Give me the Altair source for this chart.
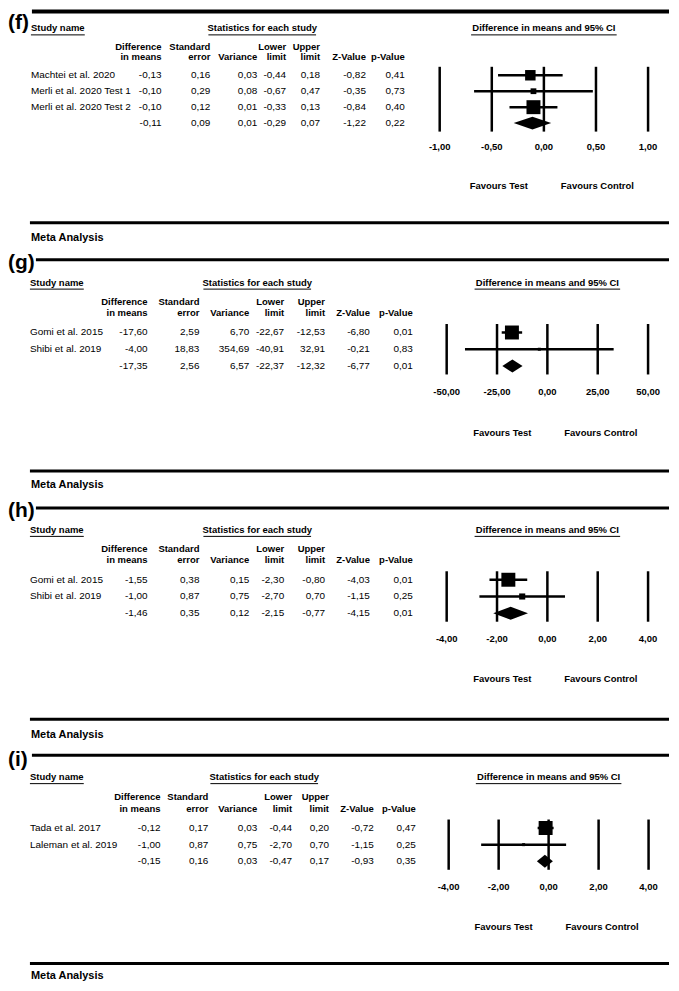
import altair as alt
import pandas as pd

# ------------------------------------------------------------------ data
panel_labels = ["(f)", "(g)", "(h)", "(i)"]

f_names = ["Machtei et al. 2020", "Merli et al. 2020 Test 1", "Merli et al. 2020 Test 2", ""]
f_diff = [-0.13, -0.10, -0.10, -0.11]
f_se = [0.16, 0.29, 0.12, 0.09]
f_var = [0.03, 0.08, 0.01, 0.01]
f_lower = [-0.44, -0.67, -0.33, -0.29]
f_upper = [0.18, 0.47, 0.13, 0.07]
f_z = [-0.82, -0.35, -0.84, -1.22]
f_p = [0.41, 0.73, 0.40, 0.22]
f_ticks = [-1.0, -0.5, 0.0, 0.5, 1.0]

g_names = ["Gomi et al. 2015", "Shibi et al. 2019", ""]
g_diff = [-17.60, -4.00, -17.35]
g_se = [2.59, 18.83, 2.56]
g_var = [6.70, 354.69, 6.57]
g_lower = [-22.67, -40.91, -22.37]
g_upper = [-12.53, 32.91, -12.32]
g_z = [-6.80, -0.21, -6.77]
g_p = [0.01, 0.83, 0.01]
g_ticks = [-50.0, -25.0, 0.0, 25.0, 50.0]

h_names = ["Gomi et al. 2015", "Shibi et al. 2019", ""]
h_diff = [-1.55, -1.00, -1.46]
h_se = [0.38, 0.87, 0.35]
h_var = [0.15, 0.75, 0.12]
h_lower = [-2.30, -2.70, -2.15]
h_upper = [-0.80, 0.70, -0.77]
h_z = [-4.03, -1.15, -4.15]
h_p = [0.01, 0.25, 0.01]
h_ticks = [-4.0, -2.0, 0.0, 2.0, 4.0]

i_names = ["Tada et al. 2017", "Laleman et al. 2019", ""]
i_diff = [-0.12, -1.00, -0.15]
i_se = [0.17, 0.87, 0.16]
i_var = [0.03, 0.75, 0.03]
i_lower = [-0.44, -2.70, -0.47]
i_upper = [0.20, 0.70, 0.17]
i_z = [-0.72, -1.15, -0.93]
i_p = [0.47, 0.25, 0.35]
i_ticks = [-4.0, -2.0, 0.0, 2.0, 4.0]

hdr_study = "Study name"
hdr_stats = "Statistics for each study"
hdr_forest = "Difference in means and 95% CI"
hdr_row1 = ["Difference", "Standard", "", "Lower", "Upper", "", ""]
hdr_row2 = ["in means", "error", "Variance", "limit", "limit", "Z-Value", "p-Value"]
fav_left = "Favours Test"
fav_right = "Favours Control"
footer = "Meta Analysis"

# ------------------------------------------------------------------ layout (style only)
FONT = "Liberation Sans"
M = 8            # page margin: reference x -> chart x
W, H = 663, 975
DUMMY = pd.DataFrame({"k": [0]})
DIAMOND_HALF = 6.5   # px

LAYOUT = {
    "f": dict(T=2, top_w=4, label_dy=12, line_x0=24, name_x=31,
              cols=[162, 211, 258, 287, 321, 367, 406], stats_cx=263, stats_w=108,
              fx=(441, 650), study=17, h1=36, h2=46, row0=64, dr=16,
              axis=136, fav=175, bottom=212, meta=227),
    "g": dict(T=251, top_w=3, label_dy=3, line_x0=28, name_x=30,
              cols=[148, 200, 250, 285, 326, 371, 414], stats_cx=258, stats_w=108,
              fx=(448, 650), study=23, h1=42, h2=53, row0=73, dr=16.8,
              axis=133, fav=174, bottom=212, meta=226),
    "h": dict(T=500, top_w=3, label_dy=3, line_x0=28, name_x=30,
              cols=[148, 200, 250, 285, 326, 371, 414], stats_cx=258, stats_w=108,
              fx=(448, 650), study=22, h1=41, h2=52, row0=72, dr=16.8,
              axis=131, fav=172, bottom=212, meta=228),
    "i": dict(T=748, top_w=3, label_dy=5, line_x0=24, name_x=30,
              cols=[161, 209, 258, 293, 330, 375, 417], stats_cx=265, stats_w=108,
              fx=(450, 650.5), study=22, h1=42, h2=54, row0=73, dr=16.7,
              axis=132, fav=172, bottom=209, meta=221),
}


def fmt(v):
    return f"{v:.2f}".replace(".", ",")


def static_text(s, x, y, align="left", size=9.5, bold=True):
    return alt.Chart(DUMMY).mark_text(
        text=s, align=align, baseline="middle", font=FONT, fontSize=size,
        fontWeight="bold" if bold else "normal", color="black"
    ).encode(x=alt.value(x), y=alt.value(y))


def hrule(x1, x2, y, w):
    return alt.Chart(DUMMY).mark_rule(color="black", strokeWidth=w).encode(
        x=alt.value(x1), x2=alt.value(x2), y=alt.value(y))


def panel(key, label, names, diff, se, var, lower, upper, z, p, ticks):
    L = LAYOUT[key]
    T = L["T"]
    n = len(names)
    df = pd.DataFrame({
        "row": list(range(n)),
        "name": names,
        "c0": [fmt(v) for v in diff],
        "c1": [fmt(v) for v in se],
        "c2": [fmt(v) for v in var],
        "c3": [fmt(v) for v in lower],
        "c4": [fmt(v) for v in upper],
        "c5": [fmt(v) for v in z],
        "c6": [fmt(v) for v in p],
        "d": diff, "lo": lower, "hi": upper, "se": se,
        "study": [nm != "" for nm in names],
    })
    ysc = alt.Scale(domain=[0, n - 1],
                    range=[T + L["row0"], T + L["row0"] + (n - 1) * L["dr"]])
    xsc = alt.Scale(domain=[ticks[0], ticks[-1]],
                    range=[L["fx"][0] - M, L["fx"][1] - M])
    Y = alt.Y("row:Q", scale=ysc, axis=None)
    cols = [c - M for c in L["cols"]]
    fmid = (L["fx"][0] + L["fx"][1]) / 2 - M

    layers = []
    # label, separator line
    layers.append(static_text(label, 0, T + L["label_dy"], size=21))
    layers.append(hrule(L["line_x0"], W, T, L["top_w"]))
    # headers
    ys = T + L["study"]
    nx = L["name_x"] - M
    layers.append(static_text(hdr_study, nx, ys))
    layers.append(hrule(nx, nx + 54, ys + 6.5, 1))
    sc = L["stats_cx"] - M
    layers.append(static_text(hdr_stats, sc, ys, align="center"))
    layers.append(hrule(sc - L["stats_w"] / 2, sc + L["stats_w"] / 2, ys + 6.5, 1))
    layers.append(static_text(hdr_forest, fmid, ys, align="center"))
    layers.append(hrule(fmid - 73, fmid + 73, ys + 6.5, 1))
    for t1, t2, cx in zip(hdr_row1, hdr_row2, cols):
        if t1:
            layers.append(static_text(t1, cx, T + L["h1"], align="right"))
        layers.append(static_text(t2, cx, T + L["h2"], align="right"))

    base = alt.Chart(df)
    layers.append(base.mark_text(align="left", baseline="middle", font=FONT,
                                 fontSize=10, color="black").encode(
        x=alt.value(nx), y=Y, text="name:N"))
    for k, cx in enumerate(cols):
        layers.append(base.mark_text(align="right", baseline="middle", font=FONT,
                                     fontSize=10, color="black").encode(
            x=alt.value(cx), y=Y, text=f"c{k}:N"))

    # forest plot
    tdf = pd.DataFrame({"t": ticks, "lab": [fmt(t) for t in ticks]})
    y_first = T + L["row0"]
    y_last = T + L["row0"] + (n - 1) * L["dr"]
    layers.append(alt.Chart(tdf).mark_rule(color="black", strokeWidth=2.5).encode(
        x=alt.X("t:Q", scale=xsc, axis=None),
        y=alt.value(y_first - 8.5), y2=alt.value(y_last + 8.5)))
    layers.append(alt.Chart(tdf).mark_text(align="center", baseline="middle", font=FONT,
                                           fontSize=9.5, fontWeight="bold",
                                           color="black").encode(
        x=alt.X("t:Q", scale=xsc, axis=None), y=alt.value(T + L["axis"]),
        text="lab:N"))

    studies = df[df["study"]]
    layers.append(alt.Chart(studies).mark_rule(color="black", strokeWidth=2.5).encode(
        x=alt.X("lo:Q", scale=xsc, axis=None), x2="hi:Q", y=Y))
    layers.append(
        alt.Chart(studies)
        .transform_calculate(w="1/(datum.se*datum.se)")
        .transform_joinaggregate(wmax="max(w)")
        .transform_calculate(sz="max(9, 196*datum.w/datum.wmax)")
        .mark_square(filled=True, color="black", opacity=1)
        .encode(x=alt.X("d:Q", scale=xsc, axis=None), y=Y,
                size=alt.Size("sz:Q", scale=None, legend=None)))

    # summary diamond (area between upper and lower edges)
    summ = df[~df["study"]].iloc[0]
    hh = DIAMOND_HALF / L["dr"]
    r = float(summ["row"])
    dia = pd.DataFrame({"x": [summ["lo"], summ["d"], summ["hi"]],
                        "ytop": [r, r - hh, r],
                        "ybot": [r, r + hh, r]})
    layers.append(alt.Chart(dia).mark_area(color="black", opacity=1).encode(
        x=alt.X("x:Q", scale=xsc, axis=None),
        y=alt.Y("ytop:Q", scale=ysc, axis=None), y2="ybot:Q"))

    layers.append(static_text(fav_left, fmid - 16, T + L["fav"], align="right"))
    layers.append(static_text(fav_right, fmid + 17, T + L["fav"], align="left"))

    # bottom separator and footer
    layers.append(hrule(22, W, T + L["bottom"], 3))
    layers.append(static_text(footer, 23, T + L["meta"], size=11))
    return alt.layer(*layers)


panels = [
    panel("f", panel_labels[0], f_names, f_diff, f_se, f_var, f_lower, f_upper, f_z, f_p, f_ticks),
    panel("g", panel_labels[1], g_names, g_diff, g_se, g_var, g_lower, g_upper, g_z, g_p, g_ticks),
    panel("h", panel_labels[2], h_names, h_diff, h_se, h_var, h_lower, h_upper, h_z, h_p, h_ticks),
    panel("i", panel_labels[3], i_names, i_diff, i_se, i_var, i_lower, i_upper, i_z, i_p, i_ticks),
]

chart = (
    alt.layer(*panels)
    .resolve_scale(x="independent", y="independent")
    .properties(width=W, height=H, padding=0)
    .configure_view(stroke=None)
)

chart.save("out.html", embed_options={"renderer": "svg", "actions": False})
